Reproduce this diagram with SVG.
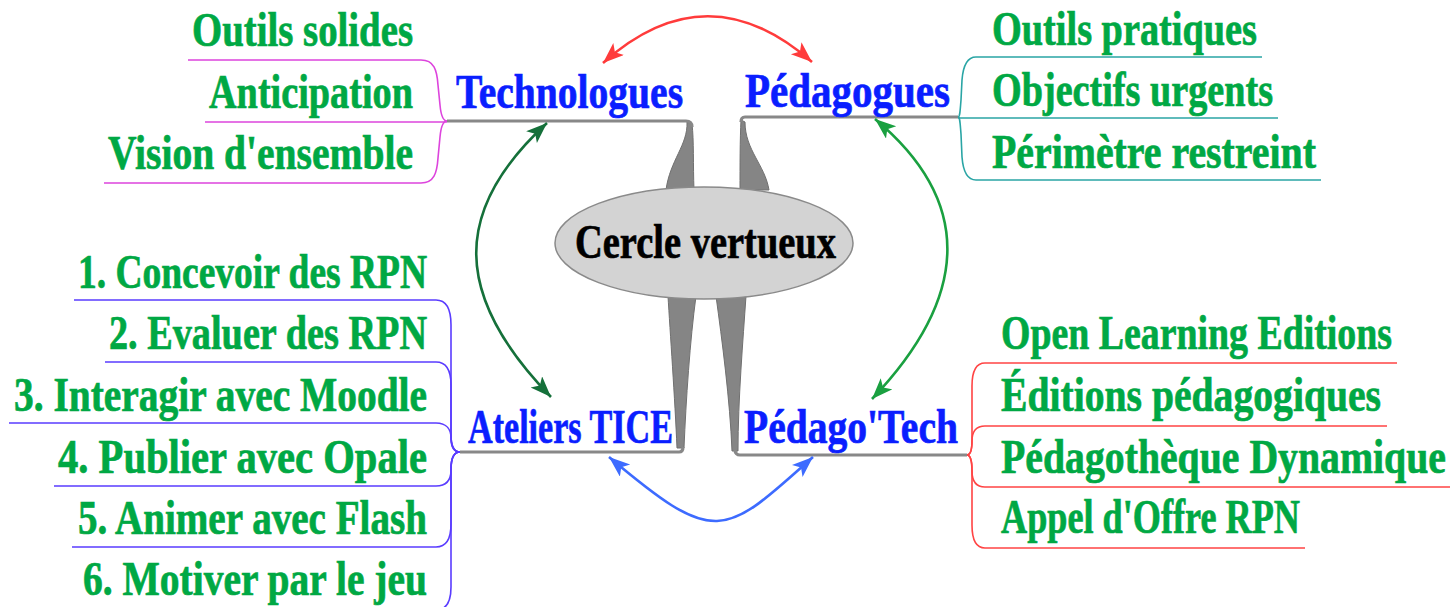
<svg xmlns="http://www.w3.org/2000/svg" width="1450" height="607" viewBox="0 0 1450 607">
<style>
.t{font-family:"Liberation Serif","DejaVu Serif",serif;font-weight:bold;font-size:48px;stroke-width:0.7}
.g{fill:#00a844;stroke:#00a844}
.b{fill:#0a1eff;stroke:#0a1eff}
.k{fill:#000;stroke:#000}
.br{fill:none;stroke-width:1.6}
.gl{fill:none;stroke:#888;stroke-width:3.2}
.wd{fill:#858585;stroke:#707070;stroke-width:1}
.ar{fill:none;stroke-width:2.6}
</style>
<defs>
<marker id="mr" markerUnits="userSpaceOnUse" markerWidth="24" markerHeight="18" refX="21" refY="8" orient="auto-start-reverse"><path d="M0,0 L21,8 L0,16 L5,8 Z" fill="#ff3b3b"/></marker>
<marker id="mdg" markerUnits="userSpaceOnUse" markerWidth="24" markerHeight="18" refX="21" refY="8" orient="auto-start-reverse"><path d="M0,0 L21,8 L0,16 L5,8 Z" fill="#15703a"/></marker>
<marker id="mg" markerUnits="userSpaceOnUse" markerWidth="24" markerHeight="18" refX="21" refY="8" orient="auto-start-reverse"><path d="M0,0 L21,8 L0,16 L5,8 Z" fill="#1aa040"/></marker>
<marker id="mb" markerUnits="userSpaceOnUse" markerWidth="24" markerHeight="18" refX="21" refY="8" orient="auto-start-reverse"><path d="M0,0 L21,8 L0,16 L5,8 Z" fill="#3d6bff"/></marker>
</defs>
<rect width="1450" height="607" fill="#fff"/>

<g id="connectors">
<path class="wd" d="M687,122 C688,145 670,160 666,190 L694,190 C693,165 694,140 692,124 Z"/>
<path class="gl" d="M447,121 H686 C690,121 692,123 692,127"/>
<path class="wd" d="M741,120 C740,140 740,165 740,190 L769,190 C765,165 745,150 745,122 Z"/>
<path class="gl" d="M958,117 H745 C742,117 741,119 741,122"/>
<path class="wd" d="M668,296 C670,330 675,400 677,448 L684,448 C686,400 690,340 696,296 Z"/>
<path class="gl" d="M460,452 H679 C682,452 683,450 683,447"/>
<path class="wd" d="M716,296 C722,340 730,400 732,451 L738,451 C738,400 743,340 746,296 Z"/>
<path class="gl" d="M967,455 H740 C737,455 735,453 735,450"/>
<g stroke="#dd44dd" class="br">
<path d="M188,60 H421 C434,60 437,70 438,85 L440,105 C441,116 443,121 447,121"/>
<path d="M205,122 H447"/>
<path d="M104,183 H421 C434,183 437,173 438,158 L440,137 C441,126 443,121 447,121"/>
</g>
<g stroke="#2aa5a5" class="br">
<path d="M1262,57 H976 C966,57 963,67 962,80 L961,100 C960,112 960,117 958,117"/>
<path d="M1278,118 H958"/>
<path d="M1321,180 H976 C966,180 963,170 962,157 L961,134 C960,122 960,117 958,117"/>
</g>
<g stroke="#5a3cff" class="br">
<path d="M74,300 H436 C447,300 451,310 451,325 V435 C451,447 455,452 460,452"/>
<path d="M105,362 H436 C447,362 451,372 451,385 V435 C451,447 455,452 460,452"/>
<path d="M9,423 H436 C447,423 451,430 451,438 C451,448 455,452 460,452"/>
<path d="M54,486 H436 C447,486 451,479 451,470 C451,457 455,452 460,452"/>
<path d="M72,547 H436 C447,547 451,537 451,524 V469 C451,457 455,452 460,452"/>
<path d="M60,610 H436 C447,610 451,600 451,587 V469 C451,457 455,452 460,452"/>
</g>
<g stroke="#ff4444" class="br">
<path d="M1397,363 H985 C975,363 972,373 972,386 V440 C972,450 970,455 967,455"/>
<path d="M1387,426 H985 C975,426 972,433 972,441 C972,450 970,455 967,455"/>
<path d="M1450,487 H985 C975,487 972,480 972,471 C972,461 970,455 967,455"/>
<path d="M1305,548 H985 C975,548 972,538 972,525 V470 C972,460 970,455 967,455"/>
</g>
<path class="ar" stroke="#ff3b3b" marker-start="url(#mr)" marker-end="url(#mr)" d="M603,63 Q707,-30 812,62"/>
<path class="ar" stroke="#15703a" marker-start="url(#mdg)" marker-end="url(#mdg)" d="M547,123 C452,210 452,295 551,397"/>
<path class="ar" stroke="#1aa040" marker-start="url(#mg)" marker-end="url(#mg)" d="M875,119 C972,200 972,294 872,399"/>
<path class="ar" stroke="#3d6bff" marker-start="url(#mb)" marker-end="url(#mb)" d="M609,457 C660,500 690,522 717,521 C745,520 770,495 813,457"/>
</g>

<g id="center">
<ellipse cx="704" cy="243" rx="149" ry="56" fill="#d3d3d3" stroke="#8a8a8a" stroke-width="1.5"/>
<text class="t k" transform="translate(575,258) scale(0.75,1)" textLength="348" lengthAdjust="spacingAndGlyphs">Cercle vertueux</text>
</g>

<g id="technologues">
<text class="t b" transform="translate(456,108) scale(0.75,1)" textLength="302.7" lengthAdjust="spacingAndGlyphs">Technologues</text>
</g>
<g id="tech-children">
<text class="t g" transform="translate(192,46) scale(0.75,1)" textLength="294.7" lengthAdjust="spacingAndGlyphs">Outils solides</text>
<text class="t g" transform="translate(209,108) scale(0.75,1)" textLength="272" lengthAdjust="spacingAndGlyphs">Anticipation</text>
<text class="t g" transform="translate(108,169) scale(0.75,1)" textLength="406.7" lengthAdjust="spacingAndGlyphs">Vision d'ensemble</text>
</g>

<g id="pedagogues">
<text class="t b" transform="translate(745,107) scale(0.75,1)" textLength="273.3" lengthAdjust="spacingAndGlyphs">Pédagogues</text>
</g>
<g id="peda-children">
<text class="t g" transform="translate(992,45) scale(0.75,1)" textLength="353.3" lengthAdjust="spacingAndGlyphs">Outils pratiques</text>
<text class="t g" transform="translate(992,106) scale(0.75,1)" textLength="374.7" lengthAdjust="spacingAndGlyphs">Objectifs urgents</text>
<text class="t g" transform="translate(992,168) scale(0.75,1)" textLength="432" lengthAdjust="spacingAndGlyphs">Périmètre restreint</text>
</g>

<g id="ateliers">
<text class="t b" transform="translate(468,443) scale(0.75,1)" textLength="273.3" lengthAdjust="spacingAndGlyphs">Ateliers TICE</text>
</g>
<g id="ateliers-children">
<text class="t g" transform="translate(78,288) scale(0.75,1)" textLength="465.3" lengthAdjust="spacingAndGlyphs">1. Concevoir des RPN</text>
<text class="t g" transform="translate(109,349) scale(0.75,1)" textLength="424" lengthAdjust="spacingAndGlyphs">2. Evaluer des RPN</text>
<text class="t g" transform="translate(14,411) scale(0.75,1)" textLength="550.7" lengthAdjust="spacingAndGlyphs">3. Interagir avec Moodle</text>
<text class="t g" transform="translate(58,473) scale(0.75,1)" textLength="492" lengthAdjust="spacingAndGlyphs">4. Publier avec Opale</text>
<text class="t g" transform="translate(78,534) scale(0.75,1)" textLength="465.3" lengthAdjust="spacingAndGlyphs">5. Animer avec Flash</text>
<text class="t g" transform="translate(83,595) scale(0.75,1)" textLength="458.7" lengthAdjust="spacingAndGlyphs">6. Motiver par le jeu</text>
</g>

<g id="pedagotech">
<text class="t b" transform="translate(744,443) scale(0.75,1)" textLength="285.3" lengthAdjust="spacingAndGlyphs">Pédago'Tech</text>
</g>
<g id="pedagotech-children">
<text class="t g" transform="translate(1001,349) scale(0.75,1)" textLength="521.3" lengthAdjust="spacingAndGlyphs">Open Learning Editions</text>
<text class="t g" transform="translate(1001,411) scale(0.75,1)" textLength="506.7" lengthAdjust="spacingAndGlyphs">Éditions pédagogiques</text>
<text class="t g" transform="translate(1001,473) scale(0.75,1)" textLength="593.3" lengthAdjust="spacingAndGlyphs">Pédagothèque Dynamique</text>
<text class="t g" transform="translate(1001,533) scale(0.75,1)" textLength="398.7" lengthAdjust="spacingAndGlyphs">Appel d'Offre RPN</text>
</g>
</svg>
